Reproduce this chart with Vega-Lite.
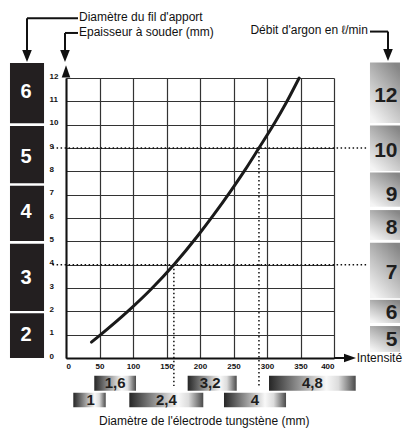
{
  "$schema": "https://vega.github.io/schema/vega-lite/v6.json",
  "width": 268,
  "height": 280,
  "autosize": {"type": "none"},
  "padding": {"left": 66, "top": 78, "right": 69, "bottom": 72},
  "background": "white",
  "config": {"view": {"stroke": null}, "font": "Liberation Sans"},
  "datasets": {
    "curve": [
      {"x": 38, "y": 0.68}, {"x": 50, "y": 0.96}, {"x": 93, "y": 2.02}, {"x": 128, "y": 2.98},
      {"x": 161, "y": 4.0}, {"x": 197, "y": 5.25}, {"x": 220, "y": 6.12}, {"x": 245, "y": 7.12},
      {"x": 267, "y": 8.05}, {"x": 288, "y": 9.0}, {"x": 312, "y": 10.1}, {"x": 327, "y": 10.85},
      {"x": 348, "y": 12.0}
    ],
    "leftBoxes": [
      {"x": -83.6, "x2": -32.8, "y": 12.64, "y2": 10.06},
      {"x": -83.6, "x2": -32.8, "y": 9.94, "y2": 7.49},
      {"x": -83.6, "x2": -32.8, "y": 7.38, "y2": 5.01},
      {"x": -83.6, "x2": -32.8, "y": 4.9, "y2": 2.01},
      {"x": -83.6, "x2": -32.8, "y": 1.92, "y2": 0}
    ],
    "leftLabels": [
      {"x": -59.7, "y": 11.41, "label": "6"},
      {"x": -59.7, "y": 8.63, "label": "5"},
      {"x": -59.7, "y": 6.27, "label": "4"},
      {"x": -59.7, "y": 3.43, "label": "3"},
      {"x": -59.7, "y": 0.99, "label": "2"}
    ],
    "rightBoxes": [
      {"x": 453.7, "x2": 498.5, "y": 12.66, "y2": 10.07},
      {"x": 453.7, "x2": 498.5, "y": 9.96, "y2": 8.01},
      {"x": 453.7, "x2": 498.5, "y": 7.95, "y2": 6.48},
      {"x": 453.7, "x2": 498.5, "y": 6.34, "y2": 5.06},
      {"x": 453.7, "x2": 498.5, "y": 4.94, "y2": 2.56},
      {"x": 453.7, "x2": 498.5, "y": 2.49, "y2": 1.5},
      {"x": 453.7, "x2": 498.5, "y": 1.37, "y2": 0.26}
    ],
    "rightLabels": [
      {"x": 494.8, "y": 11.24, "label": "12"},
      {"x": 494.8, "y": 8.89, "label": "10"},
      {"x": 494.8, "y": 6.99, "label": "9"},
      {"x": 494.8, "y": 5.59, "label": "8"},
      {"x": 494.8, "y": 3.63, "label": "7"},
      {"x": 494.8, "y": 1.95, "label": "6"},
      {"x": 494.8, "y": 0.77, "label": "5"}
    ],
    "bottomBoxes": [
      {"x": 42.2, "x2": 104.5, "y": -0.76, "y2": -1.4},
      {"x": 181.6, "x2": 254.8, "y": -0.76, "y2": -1.4},
      {"x": 303, "x2": 432.4, "y": -0.76, "y2": -1.4},
      {"x": 10.9, "x2": 59.3, "y": -1.49, "y2": -2.11},
      {"x": 94.5, "x2": 204.9, "y": -1.49, "y2": -2.11},
      {"x": 235.8, "x2": 328.4, "y": -1.49, "y2": -2.11}
    ],
    "bottomLabels": [
      {"x": 73.4, "y": -1.08, "label": "1,6"},
      {"x": 215, "y": -1.08, "label": "3,2"},
      {"x": 367.7, "y": -1.08, "label": "4,8"},
      {"x": 37, "y": -1.8, "label": "1"},
      {"x": 149.7, "y": -1.8, "label": "2,4"},
      {"x": 282, "y": -1.8, "label": "4"}
    ],
    "dotted": [
      {"x": -20, "x2": 449, "y": 9, "y2": 9},
      {"x": -20, "x2": 449, "y": 4, "y2": 4},
      {"x": 161, "x2": 161, "y": 4, "y2": -1.2},
      {"x": 288, "x2": 288, "y": 9, "y2": -1.2}
    ],
    "solid": [
      {"x": -58.2, "x2": 17.9, "y": 14.56, "y2": 14.56},
      {"x": -58.2, "x2": -58.2, "y": 14.56, "y2": 13.15},
      {"x": -1.5, "x2": 17.9, "y": 13.93, "y2": 13.93},
      {"x": -1.5, "x2": -1.5, "y": 13.93, "y2": 13.15},
      {"x": 453.7, "x2": 480.6, "y": 13.99, "y2": 13.99},
      {"x": 480.6, "x2": 480.6, "y": 13.99, "y2": 13.15},
      {"x": 400, "x2": 418, "y": 0, "y2": 0}
    ],
    "downArrows": [
      {"x": -58.2, "y": 12.94},
      {"x": -1.5, "y": 12.94},
      {"x": 480.6, "y": 12.99}
    ],
    "upArrows": [{"x": 0, "y": 12.28}],
    "rightArrows": [{"x": 423.9, "y": 0}],
    "titlesLeft": [
      {"x": 19.4, "y": 14.6, "label": "Diamètre du fil d'apport"},
      {"x": 19.4, "y": 13.98, "label": "Epaisseur à souder (mm)"},
      {"x": 433.9, "y": 0.0, "label": "Intensité"}
    ],
    "titlesRight": [
      {"x": 450.7, "y": 14.06, "label": "Débit d'argon en ℓ/min"}
    ],
    "titlesCenter": [
      {"x": 206.3, "y": -2.7, "label": "Diamètre de l'électrode tungstène (mm)"}
    ]
  },
  "encoding": {
    "x": {
      "field": "x", "type": "quantitative",
      "scale": {"domain": [0, 400], "nice": false, "zero": false},
      "axis": {
        "title": null, "values": [0, 50, 100, 150, 200, 250, 300, 350, 400],
        "grid": true, "gridColor": "#333333", "gridWidth": 1.2, "gridOpacity": 1,
        "domainColor": "#111", "domainWidth": 2, "ticks": false,
        "labelFont": "Liberation Sans", "labelFontWeight": "bold", "labelFontSize": 8,
        "labelColor": "#111", "labelPadding": 4
      }
    },
    "y": {
      "field": "y", "type": "quantitative",
      "scale": {"domain": [0, 12], "nice": false, "zero": false},
      "axis": {
        "title": null, "values": [0, 1, 2, 3, 4, 5, 6, 7, 8, 9, 10, 11, 12],
        "grid": true, "gridColor": "#333333", "gridWidth": 1.2, "gridOpacity": 1,
        "domainColor": "#111", "domainWidth": 2, "ticks": false,
        "labelFont": "Liberation Sans", "labelFontWeight": "bold", "labelFontSize": 8,
        "labelColor": "#111", "labelAlign": "left", "labelBaseline": "alphabetic", "labelPadding": 17
      }
    }
  },
  "layer": [
    {
      "data": {"name": "leftBoxes"},
      "mark": {"type": "rect", "fill": "#231f20"},
      "encoding": {"x2": {"field": "x2"}, "y2": {"field": "y2"}}
    },
    {
      "data": {"name": "rightBoxes"},
      "mark": {"type": "rect", "fill": {"gradient": "linear", "x1": 0.8, "y1": 0, "x2": 0.2, "y2": 1,
        "stops": [{"offset": 0, "color": "#868686"}, {"offset": 0.55, "color": "#c4c4c4"}, {"offset": 1, "color": "#f4f4f4"}]}},
      "encoding": {"x2": {"field": "x2"}, "y2": {"field": "y2"}}
    },
    {
      "data": {"name": "bottomBoxes"},
      "mark": {"type": "rect", "fill": {"gradient": "linear", "x1": 0, "y1": 0, "x2": 1, "y2": 0,
        "stops": [{"offset": 0, "color": "#262626"}, {"offset": 0.15, "color": "#555555"}, {"offset": 0.66, "color": "#f8f8f8"}, {"offset": 0.8, "color": "#dcdcdc"}, {"offset": 1, "color": "#4a4a4a"}]}},
      "encoding": {"x2": {"field": "x2"}, "y2": {"field": "y2"}}
    },
    {
      "data": {"name": "dotted"},
      "mark": {"type": "rule", "color": "#111", "strokeWidth": 1.5, "strokeDash": [1.5, 2.5]},
      "encoding": {"x2": {"field": "x2"}, "y2": {"field": "y2"}}
    },
    {
      "data": {"name": "solid"},
      "mark": {"type": "rule", "color": "#111", "strokeWidth": 2},
      "encoding": {"x2": {"field": "x2"}, "y2": {"field": "y2"}}
    },
    {
      "data": {"name": "curve"},
      "mark": {"type": "line", "color": "#1a1a1a", "strokeWidth": 3, "interpolate": "monotone", "strokeCap": "round"},
      "encoding": {}
    },
    {
      "data": {"name": "downArrows"},
      "mark": {"type": "point", "shape": "M-0.8,-1L0.8,-1L0,1Z", "size": 144, "filled": true, "color": "#111", "opacity": 1},
      "encoding": {}
    },
    {
      "data": {"name": "upArrows"},
      "mark": {"type": "point", "shape": "M-0.7,1L0.7,1L0,-1Z", "size": 150, "filled": true, "color": "#111", "opacity": 1},
      "encoding": {}
    },
    {
      "data": {"name": "rightArrows"},
      "mark": {"type": "point", "shape": "M-1,-0.7L1,0L-1,0.7Z", "size": 144, "filled": true, "color": "#111", "opacity": 1},
      "encoding": {}
    },
    {
      "data": {"name": "leftLabels"},
      "mark": {"type": "text", "color": "white", "fontWeight": "bold", "fontSize": 20, "align": "center", "baseline": "middle", "font": "Liberation Sans"},
      "encoding": {"text": {"field": "label"}}
    },
    {
      "data": {"name": "rightLabels"},
      "mark": {"type": "text", "color": "#1e1e1e", "fontWeight": "bold", "fontSize": 21, "align": "right", "baseline": "middle", "font": "Liberation Sans"},
      "encoding": {"text": {"field": "label"}}
    },
    {
      "data": {"name": "bottomLabels"},
      "mark": {"type": "text", "color": "#1e1e1e", "fontWeight": "bold", "fontSize": 15, "align": "center", "baseline": "middle", "font": "Liberation Sans"},
      "encoding": {"text": {"field": "label"}}
    },
    {
      "data": {"name": "titlesLeft"},
      "mark": {"type": "text", "color": "#111", "fontSize": 12, "align": "left", "baseline": "middle", "font": "Liberation Sans"},
      "encoding": {"text": {"field": "label"}}
    },
    {
      "data": {"name": "titlesRight"},
      "mark": {"type": "text", "color": "#111", "fontSize": 12, "align": "right", "baseline": "middle", "font": "Liberation Sans"},
      "encoding": {"text": {"field": "label"}}
    },
    {
      "data": {"name": "titlesCenter"},
      "mark": {"type": "text", "color": "#111", "fontSize": 12, "align": "center", "baseline": "middle", "font": "Liberation Sans"},
      "encoding": {"text": {"field": "label"}}
    }
  ]
}
